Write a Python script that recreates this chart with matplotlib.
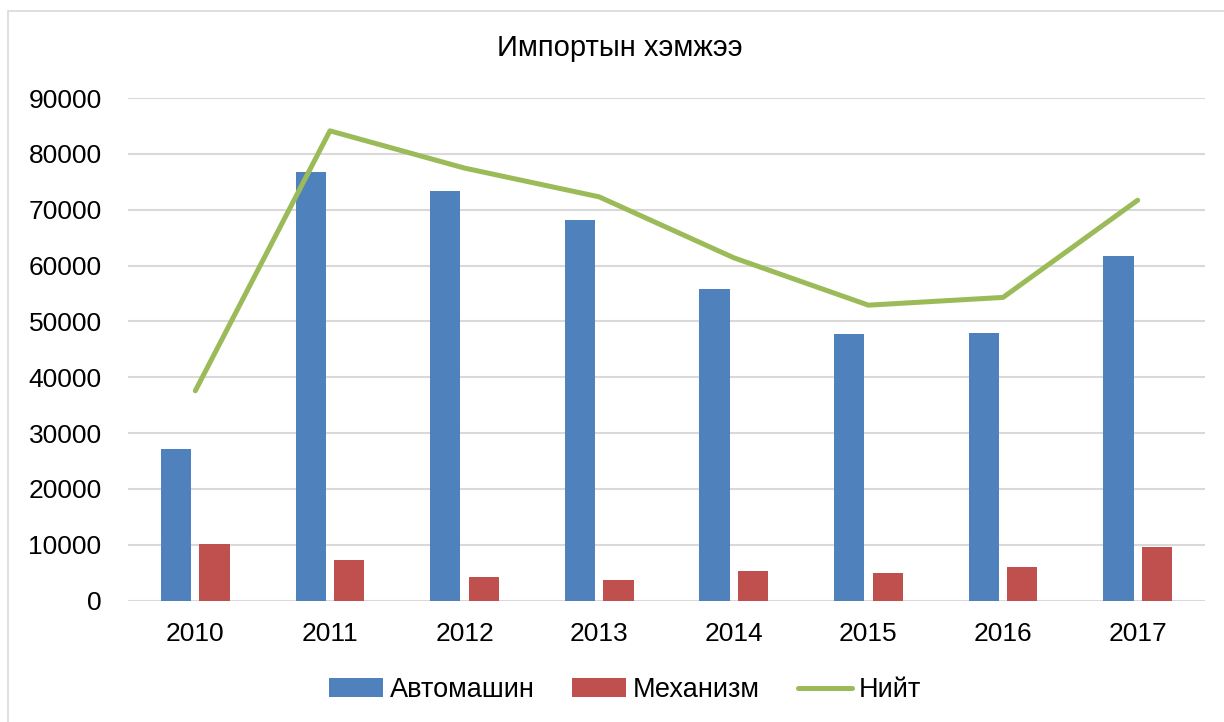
import matplotlib.pyplot as plt
import numpy as np
from matplotlib.patches import Rectangle

years = ['2010', '2011', '2012', '2013', '2014', '2015', '2016', '2017']
avtomashin = [27150, 76670, 73390, 68240, 55760, 47760, 48000, 61760]
mekhanizm = [10180, 7330, 4180, 3700, 5330, 5030, 6060, 9580]
niit = [37580, 84120, 77450, 72300, 61390, 52910, 54300, 71700]

plt.rcParams['font.family'] = ['Liberation Sans', 'DejaVu Sans']

fig = plt.figure(figsize=(12.24, 7.22), dpi=100)
ax = fig.add_axes([128 / 1224, 1 - 600.7 / 722, (1205 - 128) / 1224, (600.7 - 98) / 722])

x = np.arange(len(years))
w = 0.225
b1 = ax.bar(x - 0.143, avtomashin, w, color='#4F81BD', label='Автомашин', zorder=2)
b2 = ax.bar(x + 0.143, mekhanizm, w, color='#C0504D', label='Механизм', zorder=2)
l1, = ax.plot(x, niit, color='#9BBB59', lw=3.6, solid_capstyle='round',
              solid_joinstyle='round', label='Нийт', zorder=3)

ax.set_xlim(-0.5, len(years) - 0.5)
ax.set_ylim(0, 90000)
ax.set_yticks(np.arange(0, 90001, 10000))
ax.set_xticks(x)
ax.set_xticklabels(years)
ax.grid(axis='y', color='#D9D9D9', lw=1.5, zorder=0)
for s in ax.spines.values():
    s.set_visible(False)
ax.tick_params(axis='both', length=0, labelsize=19, colors='black')
ax.tick_params(axis='y', pad=19)
ax.tick_params(axis='x', pad=15)

fig.text(0.506, 1 - 48 / 722, 'Импортын хэмжээ', ha='center', va='center', fontsize=21)

fig.legend([b1, b2, l1], ['Автомашин', 'Механизм', 'Нийт'], loc='center',
           bbox_to_anchor=(625 / 1224, 1 - 690 / 722), ncol=3,
           frameon=False, fontsize=19.5, handlelength=2.0, handleheight=0.7,
           handletextpad=0.25, columnspacing=1.4)

# outer chart border
fig.patches.append(Rectangle((8 / 1224, -0.05), 1.1, 1 - 11 / 722 + 0.05,
                             transform=fig.transFigure, fill=False,
                             edgecolor='#D9D9D9', lw=1.2))

fig.savefig('out.png', dpi=100)
